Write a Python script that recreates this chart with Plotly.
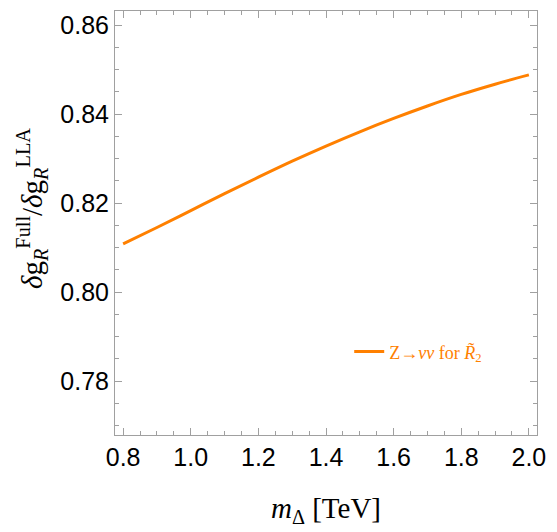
import plotly.graph_objects as go

m_delta = [0.8, 0.9, 1.0, 1.1, 1.2, 1.3, 1.4, 1.5, 1.6, 1.7, 1.8, 1.9, 2.0]
ratio = [0.8108, 0.8145, 0.8183, 0.8221, 0.8258, 0.8294, 0.8328, 0.8360,
         0.8390, 0.8418, 0.8444, 0.8467, 0.8488]
series_name = "Z→<i>νν</i> for <i>R̃</i><sub>2</sub>"

x_ticks = [0.8, 1.0, 1.2, 1.4, 1.6, 1.8, 2.0]
x_labels = ["0.8", "1.0", "1.2", "1.4", "1.6", "1.8", "2.0"]
y_ticks = [0.78, 0.80, 0.82, 0.84, 0.86]
y_labels = ["0.78", "0.80", "0.82", "0.84", "0.86"]
x_title = "<i>m</i><sub>Δ</sub> [TeV]"
y_title = ("<i>δ</i>g<sub><i>R</i></sub><sup>Full</sup>/"
           "<i>δ</i>g<sub><i>R</i></sub><sup>LLA</sup>")

orange = "#ff8000"
frame = "#a0a0a0"
serif = "Liberation Serif, Times New Roman"

fig = go.Figure()
fig.add_trace(go.Scatter(
    x=m_delta, y=ratio, mode="lines", name=series_name,
    line=dict(color=orange, width=3, shape="spline"),
))

axis_common = dict(
    showgrid=False, zeroline=False, showline=True, linecolor=frame, linewidth=1,
    mirror="ticks", ticks="inside", ticklen=7, tickcolor=frame, tickwidth=1,
    tickfont=dict(family="Liberation Sans, Arial", size=25, color="black"),
)

fig.update_layout(
    width=557, height=532,
    margin=dict(l=115, r=20, t=11, b=97),
    paper_bgcolor="white", plot_bgcolor="white",
    showlegend=True,
    legend=dict(
        x=0.555, y=0.196, xanchor="left", yanchor="middle",
        bgcolor="rgba(0,0,0,0)", itemwidth=30,
        font=dict(family=serif, size=18, color=orange),
    ),
    xaxis=dict(
        range=[0.776, 2.024], tickvals=x_ticks, ticktext=x_labels,
        minor=dict(dtick=0.05, tick0=0.8, ticks="inside", ticklen=4, tickcolor=frame),
        title=dict(text=x_title, standoff=27,
                   font=dict(family=serif, size=29, color="black")),
        **axis_common,
    ),
    yaxis=dict(
        range=[0.76787, 0.86315], tickvals=y_ticks, ticktext=y_labels,
        minor=dict(dtick=0.005, tick0=0.78, ticks="inside", ticklen=4, tickcolor=frame),
        **axis_common,
    ),
    annotations=[dict(
        text=y_title, textangle=-90, showarrow=False,
        xref="paper", yref="paper", x=-0.197, y=0.535,
        xanchor="center", yanchor="middle",
        font=dict(family=serif, size=29, color="black"),
    )],
)

fig.write_html("out.html")
